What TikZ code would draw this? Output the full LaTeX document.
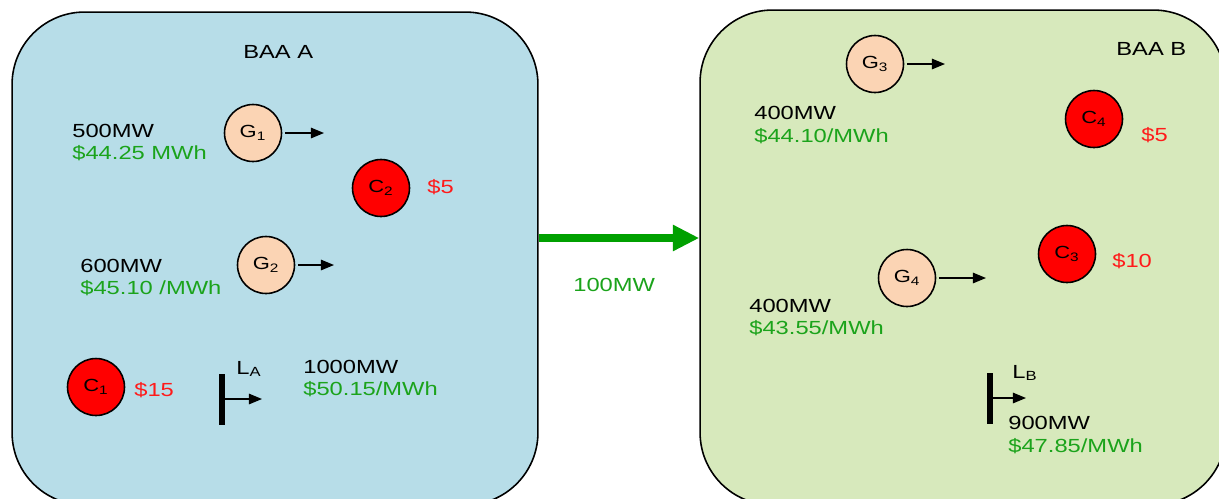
\documentclass[tikz,border=0pt]{standalone}
\usepackage{fontspec}
\setmainfont{Liberation Sans}[FakeStretch=1.25]
\usetikzlibrary{arrows.meta, positioning}

\definecolor{baaAfill}{HTML}{B7DDE8}
\definecolor{baaBfill}{HTML}{D7E9BC}
\definecolor{genfill}{HTML}{FBD4B4}
\definecolor{pricegreen}{HTML}{1BA31B}
\definecolor{tiegreen}{HTML}{00A000}
\definecolor{costred}{HTML}{FF1A1A}

\begin{document}
\begin{tikzpicture}[x=0.02cm, y=-0.02cm,
    font=\fontsize{10.8}{13}\selectfont,
    area/.style={draw, line width=0.9pt, rounded corners=1.45cm, minimum width=10.52cm, inner sep=0pt},
    gen/.style={circle, draw, line width=0.9pt, fill=genfill, minimum size=1.14cm, inner sep=0pt, font=\fontsize{10}{12}\selectfont},
    cons/.style={gen, fill=red},
    load/.style={fill=black, minimum width=3.4pt, minimum height=29pt, inner sep=0pt},
    feed/.style={-{Triangle[length=7.5pt,width=6pt]}, line width=0.8pt, shorten <=1.5pt},
    tie/.style={-{Triangle[length=15pt,width=14pt]}, line width=4.5pt, draw=tiegreen},
    txt/.style={anchor=base west, inner sep=0pt},
    price/.style={txt, text=pricegreen},
    cost/.style={txt, text=costred}]
    \useasboundingbox (0,0) rectangle (1219,498);
    \clip (0,0) rectangle (1219,498);

    % Balancing areas
    \node[area, fill=baaAfill, minimum height=9.86cm] (baaA) at (275,258.5) {};
    \node[area, fill=baaBfill, minimum height=9.9cm] (baaB) at (963,257.5) {};

    % Tie line
    \coordinate (tie) at (620,238);
    \draw[tie] (baaA.east |- tie) -- (baaB.west |- tie);
    \node[txt, text=pricegreen] (tieflow) at (573,291) {100MW};

    % BAA A
    \node[txt] (baaAlbl) at (243,58) {BAA A};

    \node[gen] (g1) at (253,133) {G\textsubscript{1}};
    \coordinate (g1out) at (324,133);
    \draw[feed] (g1) -- (g1out);
    \node[txt] (g1mw) at (72,137) {500MW};
    \node[price] (g1pr) at (72,159) {\$44.25 MWh};

    \node[cons] (c2) at (381,188) {C\textsubscript{2}};
    \node[cost] (c2bid) at (427,193) {\$5};

    \node[gen] (g2) at (266,265) {G\textsubscript{2}};
    \coordinate (g2out) at (334,265);
    \draw[feed] (g2) -- (g2out);
    \node[txt] (g2mw) at (80,272) {600MW};
    \node[price] (g2pr) at (80,294) {\$45.10 /MWh};

    \node[cons] (c1) at (96,387) {C\textsubscript{1}};
    \node[cost] (c1bid) at (134,396) {\$15};

    \node[load] (la) at (222,399.5) {};
    \coordinate (laout) at (262,399);
    \draw[feed, shorten <=0pt] (la.east |- laout) -- (laout);
    \node[txt] (lalbl) at (236,374) {L\textsubscript{A}};
    \node[txt] (lamw) at (303,373) {1000MW};
    \node[price] (lapr) at (303,395) {\$50.15/MWh};

    % BAA B
    \node[txt] (baaBlbl) at (1116,55) {BAA B};

    \node[gen] (g3) at (875,64) {G\textsubscript{3}};
    \coordinate (g3out) at (945,64);
    \draw[feed] (g3) -- (g3out);
    \node[txt] (g3mw) at (754,119) {400MW};
    \node[price] (g3pr) at (754,142) {\$44.10/MWh};

    \node[cons] (c4) at (1094,119) {C\textsubscript{4}};
    \node[cost] (c4bid) at (1141,141) {\$5};

    \node[cons] (c3) at (1067,254) {C\textsubscript{3}};
    \node[cost] (c3bid) at (1112,267) {\$10};

    \node[gen] (g4) at (907,278) {G\textsubscript{4}};
    \coordinate (g4out) at (986,278);
    \draw[feed] (g4) -- (g4out);
    \node[txt] (g4mw) at (749,312) {400MW};
    \node[price] (g4pr) at (749,334) {\$43.55/MWh};

    \node[load] (lb) at (990,398.5) {};
    \coordinate (lbout) at (1026,398);
    \draw[feed, shorten <=0pt] (lb.east |- lbout) -- (lbout);
    \node[txt] (lblbl) at (1012,378) {L\textsubscript{B}};
    \node[txt] (lbmw) at (1008,429) {900MW};
    \node[price] (lbpr) at (1008,452) {\$47.85/MWh};
\end{tikzpicture}
\end{document}
